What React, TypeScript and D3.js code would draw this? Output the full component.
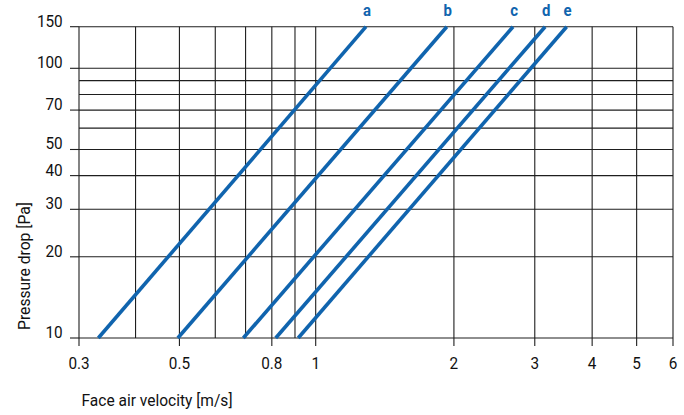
import React from "react";
import * as d3 from "d3";

const W = 684;
const H = 415;

// Axis ticks
const xGrid = [0.3, 0.4, 0.5, 0.6, 0.7, 0.8, 0.9, 1, 2, 3, 4, 5, 6];
const xTickLabels = [0.3, 0.5, 0.8, 1, 2, 3, 4, 5, 6];
const yGrid = [10, 20, 30, 40, 50, 60, 70, 80, 90, 100, 150];
const yTickLabels = [10, 20, 30, 40, 50, 70, 100, 150];

// Series: face velocity [m/s] at 10 Pa and 150 Pa
const seriesNames = ["a", "b", "c", "d", "e"];
const velocityAt10 = [0.331, 0.496, 0.692, 0.816, 0.915];
const velocityAt150 = [1.287, 1.93, 2.69, 3.16, 3.52];
const pressureLow = 10;
const pressureHigh = 150;

const FONT = "Roboto, 'Liberation Sans', sans-serif";
const BLUE = "#1064ae";

function CText(props: {
  x: number;
  y: number;
  sx: number;
  anchor?: string;
  size: number;
  weight?: string;
  fill: string;
  children: React.ReactNode;
}) {
  return (
    <text
      transform={`translate(${props.x},${props.y}) scale(${props.sx},1)`}
      textAnchor={props.anchor || "start"}
      fontSize={props.size}
      fontWeight={props.weight || "normal"}
      fill={props.fill}
    >
      {props.children}
    </text>
  );
}

export default function App() {
  const left = 79;
  const right = 673;
  const top = 26.7;
  const bottom = 338;

  const x = d3.scaleLog().domain([0.3, 1, 6]).range([left, 315.7, right]);
  const y = d3.scaleLog().domain([10, 100, 150]).range([bottom, 68.3, top]);

  const line = d3
    .line<[number, number]>()
    .x((d) => x(d[0]))
    .y((d) => y(d[1]));

  return (
    <svg
      width={W}
      height={H}
      style={{ position: "absolute", left: 0, top: 0, background: "#fff" }}
      fontFamily={FONT}
    >
      {/* vertical grid */}
      {xGrid.map((v) => (
        <line
          key={"xg" + v}
          x1={x(v)}
          x2={x(v)}
          y1={top}
          y2={bottom}
          stroke="#1e1e1e"
          strokeWidth={1.1}
        />
      ))}
      {/* horizontal grid */}
      {yGrid.map((v) => (
        <line
          key={"yg" + v}
          x1={left}
          x2={right}
          y1={y(v)}
          y2={y(v)}
          stroke="#1e1e1e"
          strokeWidth={1.1}
        />
      ))}
      {/* x ticks */}
      {xTickLabels.map((v) => (
        <g key={"xt" + v}>
          <line x1={x(v)} x2={x(v)} y1={bottom} y2={bottom + 8} stroke="#1e1e1e" strokeWidth={1.1} />
          <CText x={x(v)} y={369} sx={0.9} anchor="middle" size={17} fill="#111">
            {String(v)}
          </CText>
        </g>
      ))}
      {/* y ticks */}
      {yTickLabels.map((v) => (
        <g key={"yt" + v}>
          <line x1={left - 9} x2={left} y1={y(v)} y2={y(v)} stroke="#1e1e1e" strokeWidth={1.1} />
          <CText x={62.7} y={y(v)} sx={0.9} anchor="end" size={17} fill="#111">
            {String(v)}
          </CText>
        </g>
      ))}
      {/* series lines */}
      {seriesNames.map((name, i) => {
        const pts: [number, number][] = [
          [velocityAt10[i], pressureLow],
          [velocityAt150[i], pressureHigh],
        ];
        return (
          <g key={name}>
            <path d={line(pts) || ""} stroke={BLUE} strokeWidth={3.6} fill="none" />
            <CText
              x={x(velocityAt150[i]) + 1}
              y={15.5}
              sx={0.88}
              anchor="middle"
              size={17}
              weight="bold"
              fill={BLUE}
            >
              {name}
            </CText>
          </g>
        );
      })}
      {/* axis titles */}
      <text
        x={81.5}
        y={406}
        fontSize={16}
        fill="#111"
        textLength={151}
        lengthAdjust="spacingAndGlyphs"
      >
        Face air velocity [m/s]
      </text>
      <text
        transform={`translate(29.5, 266) rotate(-90)`}
        textAnchor="middle"
        fontSize={16}
        fill="#111"
        textLength={128}
        lengthAdjust="spacingAndGlyphs"
      >
        Pressure drop [Pa]
      </text>
    </svg>
  );
}
